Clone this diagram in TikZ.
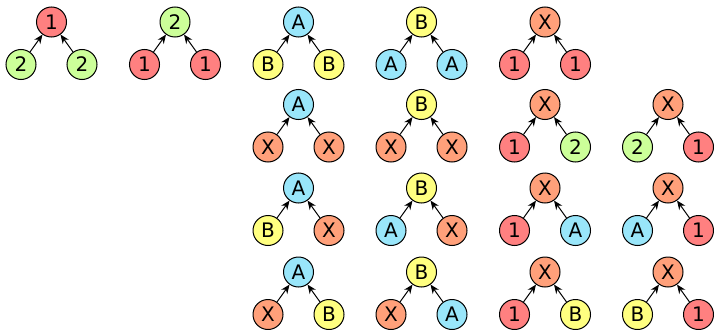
\documentclass[tikz,border=0pt]{standalone}
\usepackage{fontspec}
\setmainfont{DejaVu Sans}
\usetikzlibrary{arrows.meta}
\definecolor{cred}{RGB}{255,128,128}
\definecolor{cgreen}{RGB}{204,255,153}
\definecolor{ccyan}{RGB}{153,230,250}
\definecolor{cyellow}{RGB}{255,255,128}
\definecolor{corange}{RGB}{255,160,122}
\tikzset{
  vx/.style={circle, draw=black, line width=1pt, minimum size=30pt, inner sep=0pt,
    font=\fontsize{20}{20}\selectfont},
  v1/.style={vx, fill=cred},
  v2/.style={vx, fill=cgreen},
  vA/.style={vx, fill=ccyan},
  vB/.style={vx, fill=cyellow},
  vX/.style={vx, fill=corange},
  edge/.style={-{Stealth[length=9pt,width=7.5pt]}, line width=1pt}
}
\newcommand\mytree[6]{%
  \node[v#4] (#1r) at (#2,#3) {#4};
  \node[v#5] (#1a) at (#2-30.5,#3+42.5) {#5};
  \node[v#6] (#1b) at (#2+30.5,#3+42.5) {#6};
  \draw[edge] (#1a) -- (#1r);
  \draw[edge] (#1b) -- (#1r);
}
\begin{document}
\begin{tikzpicture}[x=1pt,y=-1pt]
\useasboundingbox (0,0) rectangle (714,329);
% row 1
\mytree{ta}{51.5}{22}{1}{2}{2}
\mytree{tb}{175}{22}{2}{1}{1}
\mytree{tc}{298.5}{22}{A}{B}{B}
\mytree{td}{421.5}{22}{B}{A}{A}
\mytree{te}{545}{22}{X}{1}{1}
% row 2
\mytree{tf}{298.5}{104.5}{A}{X}{X}
\mytree{tg}{421.5}{104.5}{B}{X}{X}
\mytree{th}{545}{104.5}{X}{1}{2}
\mytree{ti}{668}{104.5}{X}{2}{1}
% row 3
\mytree{tj}{298.5}{188}{A}{B}{X}
\mytree{tk}{421.5}{188}{B}{A}{X}
\mytree{tl}{545}{188}{X}{1}{A}
\mytree{tm}{668}{188}{X}{A}{1}
% row 4
\mytree{tn}{298.5}{272}{A}{X}{B}
\mytree{to}{421.5}{272}{B}{X}{A}
\mytree{tp}{545}{272}{X}{1}{B}
\mytree{tq}{668}{272}{X}{B}{1}
\end{tikzpicture}
\end{document}
